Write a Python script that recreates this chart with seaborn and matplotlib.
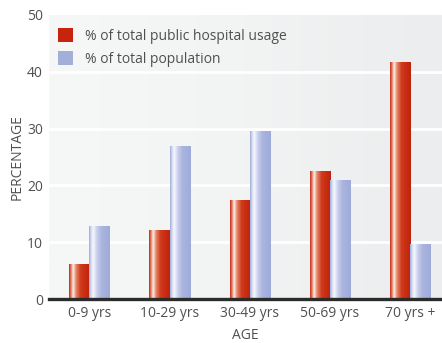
import numpy as np
import pandas as pd
import matplotlib
matplotlib.use("Agg")
import matplotlib.pyplot as plt
from matplotlib.colors import LinearSegmentedColormap
from matplotlib.patches import Patch
import seaborn as sns

# Share of hospital usage vs share of population, by age band
age_groups = ["0-9 yrs", "10-29 yrs", "30-49 yrs", "50-69 yrs", "70 yrs +"]
hospital_usage = [6.2, 12.1, 17.4, 22.6, 41.7]
population = [12.8, 26.9, 29.6, 21.0, 9.7]
series_names = ["% of total public hospital usage", "% of total population"]
y_ticks = [0, 10, 20, 30, 40, 50]

df = pd.DataFrame({
    "age": age_groups * 2,
    "value": hospital_usage + population,
    "series": [series_names[0]] * len(age_groups) + [series_names[1]] * len(age_groups),
})

sns.set_theme(style="white")
plt.rcParams["font.family"] = ["Open Sans", "DejaVu Sans"]
text_color = "#505050"
fs = 10

red_solid = "#c8230c"
blue_solid = "#a3afd9"
red_stops = [(0.0, "#c42a12"), (0.08, "#dc6e52"), (0.20, "#fcf0ea"),
             (0.34, "#e58466"), (0.55, "#cf3a1c"), (1.0, "#c0220c")]
blue_stops = [(0.0, "#9ca9d8"), (0.08, "#ccd3ee"), (0.20, "#f8f9fd"),
              (0.38, "#c8cfeb"), (0.60, "#aab5df"), (1.0, "#9eabd9")]

fig = plt.figure(figsize=(4.42, 3.43), dpi=100)
ax = fig.add_axes([0.1115, 0.1274, 0.8885, 0.8295])

sns.barplot(data=df, x="age", y="value", hue="series", order=age_groups,
            hue_order=series_names, palette=[red_solid, blue_solid],
            width=0.5, gap=0, dodge=True, legend=False, ax=ax,
            edgecolor="none", linewidth=0, zorder=3)

xlim = (-0.5, 4.4)
ylim = (0, 50)

# soft horizontal gradient behind the plot
bg = LinearSegmentedColormap.from_list("bg", ["#f6f7f7", "#f2f3f3", "#ebedee"])
ax.imshow(np.linspace(0, 1, 256)[None, :], extent=(*xlim, *ylim), aspect="auto",
          cmap=bg, zorder=0, interpolation="bilinear")

# cylindrical shading on each bar, clipped to the bar's own rectangle
def shade(patch, stops):
    x, y = patch.get_x(), patch.get_y()
    w, h = patch.get_width(), patch.get_height()
    cmap = LinearSegmentedColormap.from_list("", stops)
    im = ax.imshow(np.linspace(0, 1, 256)[None, :], extent=(x, x + w, y, y + h),
                   aspect="auto", cmap=cmap, zorder=3, interpolation="bilinear")
    im.set_clip_path(patch)
    patch.set_facecolor("none")

n = len(age_groups)
for i, patch in enumerate(ax.patches[:2 * n]):
    shade(patch, red_stops if i < n else blue_stops)

ax.set_xlim(*xlim)
ax.set_ylim(*ylim)
ax.set_yticks(y_ticks)
ax.set_yticklabels([str(t) for t in y_ticks])

for t in y_ticks[1:-1]:
    ax.axhline(t, color="white", lw=2, zorder=1)

for s in ["top", "right", "left"]:
    ax.spines[s].set_visible(False)
ax.spines["bottom"].set_color("#2b2b2b")
ax.spines["bottom"].set_linewidth(2.4)
ax.spines["bottom"].set_zorder(5)

ax.tick_params(axis="both", length=0, labelsize=fs, colors=text_color)
ax.tick_params(axis="y", pad=4.5)
ax.tick_params(axis="x", pad=5)

ax.set_xlabel("AGE", fontsize=fs, color=text_color, labelpad=5)
ax.set_ylabel("PERCENTAGE", fontsize=fs, color=text_color, labelpad=1.5)

handles = [Patch(facecolor=red_solid, edgecolor="none"),
           Patch(facecolor=blue_solid, edgecolor="none")]
leg = ax.legend(handles, series_names, loc="upper left",
                bbox_to_anchor=(0.022, 0.952), frameon=False, fontsize=fs,
                handlelength=1.08, handleheight=1.08, handletextpad=0.85,
                labelspacing=0.55, borderaxespad=0, borderpad=0)
for t in leg.get_texts():
    t.set_color(text_color)

fig.savefig("out.png", dpi=100, facecolor="white")
